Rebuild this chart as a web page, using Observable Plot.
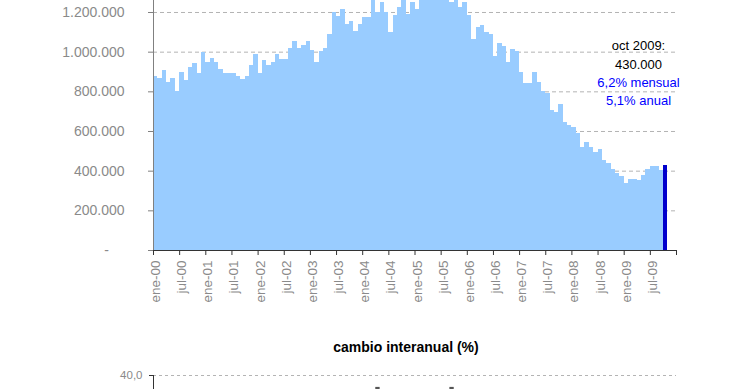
<!DOCTYPE html>
<html><head><meta charset="utf-8">
<script src="https://cdn.jsdelivr.net/npm/d3@7"></script>
<script src="https://cdn.jsdelivr.net/npm/@observablehq/plot@0.6"></script>
<style>
html,body{margin:0;padding:0;background:#fff;overflow:hidden;width:740px;height:389px;}
#wrap{position:relative;width:740px;height:389px;overflow:hidden;font-family:"Liberation Sans",Arial,sans-serif;background:#fff;}
#topChart{position:absolute;left:0;top:0;}
#title2{position:absolute;left:256px;width:300px;top:338px;text-align:center;font-weight:bold;font-size:14px;color:#000;line-height:18px;}
#bottomChart{position:absolute;left:0;top:360px;}
</style></head>
<body>
<div id="wrap"><div id="topChart"></div><div id="title2">cambio interanual (%)</div><div id="bottomChart"></div></div>
<script>
// ---- data ----
const monthNames = ["ene","feb","mar","abr","may","jun","jul","ago","sep","oct","nov","dic"];
const yearCodes = ["00","01","02","03","04","05","06","07","08","09"];
const values = [
  877000, 867000, 907000, 848000, 865000, 801000, 897000, 857000, 922000, 942000, 891000, 996000,
  947000, 970000, 946000, 915000, 892000, 892000, 892000, 875000, 861000, 879000, 933000, 989000,
  892000, 958000, 932000, 946000, 988000, 963000, 963000, 1021000, 1055000, 1021000, 1033000, 1055000,
  1008000, 949000, 1005000, 1016000, 1087000, 1200000, 1179000, 1213000, 1139000, 1154000, 1104000, 1139000,
  1173000, 1173000, 1290000, 1198000, 1250000, 1198000, 1100000, 1184000, 1226000, 1280000, 1190000, 1250000,
  1213000, 1280000, 1300000, 1290000, 1310000, 1280000, 1300000, 1270000, 1252000, 1275000, 1226000, 1252000,
  1184000, 1066000, 1124000, 1134000, 1099000, 1088000, 976000, 1043000, 1027000, 949000, 1012000, 1004000,
  899000, 840000, 840000, 899000, 848000, 804000, 790000, 708000, 695000, 738000, 647000, 630000,
  620000, 590000, 521000, 543000, 517000, 496000, 509000, 452000, 437000, 409000, 390000, 373000,
  336000, 358000, 358000, 353000, 376000, 410000, 426000, 423000, 405000, 430000
];
const highlightLabel = "oct-09";
const tickLabels = ["ene-00","jul-00","ene-01","jul-01","ene-02","jul-02","ene-03","jul-03","ene-04","jul-04",
  "ene-05","jul-05","ene-06","jul-06","ene-07","jul-07","ene-08","jul-08","ene-09","jul-09"];
const yTicks = [0, 200000, 400000, 600000, 800000, 1000000, 1200000];
const annotBlack = ["oct 2009:", "430.000"];
const annotBlue = ["6,2% mensual", "5,1% anual"];
// second chart (cambio interanual) - only its top is visible
const yoyTicks = [40];
const yoyMonths = ["abr-04", "sep-05"];
const yoyValues = [36, 36];

(function () {
const monthLabels = yearCodes.flatMap(y => monthNames.map(m => `${m}-${y}`));
const data = values.map((v, i) => ({i, label: monthLabels[i], v}));
const nSlots = monthLabels.length; // 120
const loc = d3.formatLocale({decimal: ",", thousands: ".", grouping: [3], currency: ["", ""]});
const fmt = loc.format(",d");
const font = '"Liberation Sans", Arial, sans-serif';
const grey = "#8a8a8a";

const chartTop = Plot.plot({
  width: 740, height: 320,
  marginTop: 0, marginLeft: 153, marginRight: 64, marginBottom: 70,
  style: {fontFamily: font, background: "transparent", overflow: "visible"},
  x: {type: "linear", domain: [0, nSlots], axis: null},
  y: {domain: [0, 1260500], axis: null},
  marks: [
    Plot.gridY(yTicks.filter(d => d > 0), {stroke: "#b4b4b4", strokeOpacity: 1, strokeDasharray: "4,3"}),
    Plot.rectY(data, {x1: "i", x2: d => d.i + 1, y: "v", inset: 0, shapeRendering: "crispEdges",
      fill: d => d.label === highlightLabel ? "#0000cc" : "#99ccff", clip: true}),
    Plot.ruleX([0], {stroke: "#808080"}),
    Plot.ruleY([0], {stroke: "#333"}),
    Plot.axisY({ticks: yTicks, label: null, tickSize: 5, tickPadding: 24, stroke: "#808080", fill: grey, fontSize: 14,
      tickFormat: d => d === 0 ? "-\u00a0\u00a0\u00a0\u00a0" : fmt(d)}),
    Plot.axisX({ticks: d3.range(0, nSlots + 1, 6), label: null, tickSize: 5, stroke: "#333", tickFormat: () => ""}),
    Plot.axisX({ticks: d3.range(0.5, nSlots, 6), label: null, tickSize: 0, tickPadding: 10, tickRotate: -90, fill: grey, fontSize: 13.5,
      tickFormat: d => tickLabels[Math.round((d - 0.5) / 6)]}),
    Plot.text([annotBlack.join("\n")], {frameAnchor: "top-right", dx: -38, dy: 53, textAnchor: "middle", lineAnchor: "middle", lineHeight: 1.41, fontSize: 13, fill: "#000"}),
    Plot.text([annotBlue.join("\n")], {frameAnchor: "top-right", dx: -38, dy: 89.5, textAnchor: "middle", lineAnchor: "middle", lineHeight: 1.41, fontSize: 13, fill: "#0000ff"})
  ]
});
document.getElementById("topChart").appendChild(chartTop);

const yoyData = yoyMonths.map((m, k) => ({i: monthLabels.indexOf(m), v: yoyValues[k]}));
const chartBottom = Plot.plot({
  width: 740, height: 260,
  marginTop: 15, marginLeft: 153, marginRight: 64, marginBottom: 7,
  style: {fontFamily: font, background: "transparent", overflow: "visible"},
  x: {type: "linear", domain: [0, nSlots], axis: null},
  y: {domain: [-40, 40], axis: null},
  marks: [
    Plot.gridY(yoyTicks, {stroke: "#b4b4b4", strokeOpacity: 1, strokeDasharray: "3,3"}),
    Plot.rectY(yoyData, {x1: "i", x2: d => d.i + 1, y: "v", fill: "#555"}),
    Plot.ruleX([0], {stroke: "#333"}),
    Plot.axisY({ticks: yoyTicks, label: null, tickSize: 4, tickPadding: 7, stroke: "#333", fill: grey, fontSize: 11.5,
      tickFormat: d => d.toFixed(1).replace(".", ",")})
  ]
});
document.getElementById("bottomChart").appendChild(chartBottom);
})();
</script>
</body></html>
